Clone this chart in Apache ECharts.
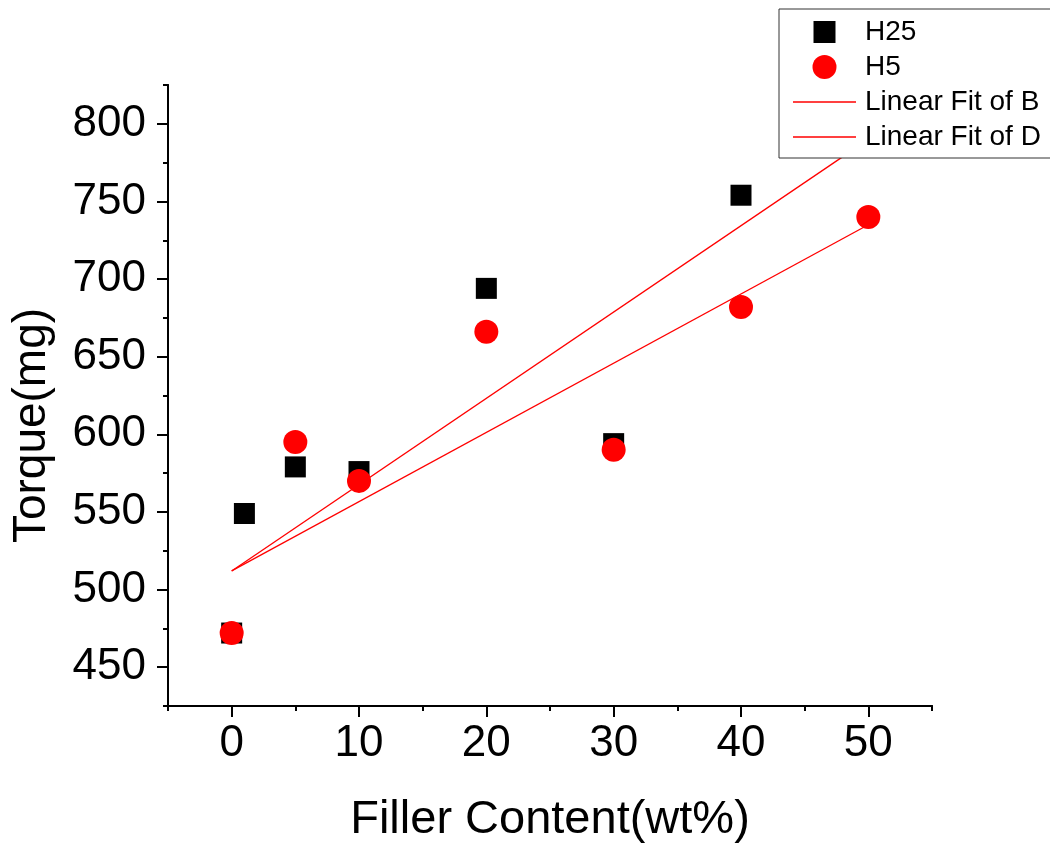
<!DOCTYPE html>
<html>
<head>
<meta charset="utf-8">
<title>Torque vs Filler Content</title>
<script src="https://cdn.jsdelivr.net/npm/echarts@6/dist/echarts.min.js"></script>
<style>
  html, body { margin: 0; padding: 0; background: #fff; }
  #chart { width: 1050px; height: 850px; }
</style>
</head>
<body>
<div id="chart"></div>
<script>
// Measured torque for the two filler grades
var xH25 = [0, 1, 5, 10, 20, 30, 40];
var yH25 = [472, 549, 579, 576, 694, 594, 754];
var xH5 = [0, 5, 10, 20, 30, 40, 50];
var yH5 = [472, 595, 570, 666, 590, 682, 740];

// Linear fit end points
var fitX = [0, 50];
var fitB = [512, 790];
var fitD = [512, 735];

// Axis ticks
var xMajor = [0, 10, 20, 30, 40, 50];
var xMinor = [-5, 5, 15, 25, 35, 45, 55];
var yMajor = [450, 500, 550, 600, 650, 700, 750, 800];
var yMinor = [425, 475, 525, 575, 625, 675, 725, 775, 825];

function pairs(xs, ys) {
  return xs.map(function (x, i) { return [x, ys[i]]; });
}

var FONT = 'Liberation Sans, Arial, Helvetica, sans-serif';
var chart = echarts.init(document.getElementById('chart'), null, { renderer: 'canvas' });

var axisLine = { show: true, onZero: false, lineStyle: { color: '#000', width: 2 } };
var lineIcon = 'path://M0,0L63,0L63,1.3L0,1.3Z';

chart.setOption({
  animation: false,
  backgroundColor: '#fff',
  grid: { left: 168, right: 118, top: 85, bottom: 144, containLabel: false },
  legend: {
    left: 779,
    top: 9,
    orient: 'vertical',
    padding: [9, 12, 7, 14],
    itemWidth: 63,
    itemHeight: 24,
    itemGap: 7,
    backgroundColor: '#fff',
    borderColor: '#333',
    borderWidth: 1,
    borderRadius: 0,
    textStyle: { fontFamily: FONT, fontSize: 28, color: '#000', lineHeight: 27, padding: [0, 0, 0, 4] },
    data: [
      { name: 'H25', icon: 'path://M11,-1 M0,0L22,0L22,22L0,22Z M11,23' },
      { name: 'H5', icon: 'circle' },
      { name: 'Linear Fit of B', icon: lineIcon },
      { name: 'Linear Fit of D', icon: lineIcon }
    ]
  },
  xAxis: [
    {
      type: 'value', position: 'bottom', min: -5, max: 55,
      name: 'Filler Content(wt%)', nameLocation: 'middle', nameGap: 91,
      nameTextStyle: { fontFamily: FONT, fontSize: 47, color: '#000' },
      axisLine: axisLine,
      axisTick: { show: true, inside: false, length: 11, lineStyle: { color: '#000', width: 2 }, customValues: xMajor },
      axisLabel: { show: true, margin: 16, fontFamily: FONT, fontSize: 44, color: '#000', customValues: xMajor },
      splitLine: { show: false }
    },
    {
      type: 'value', position: 'bottom', min: -5, max: 55,
      axisLine: axisLine,
      axisTick: { show: true, inside: false, length: 5, lineStyle: { color: '#000', width: 2 }, customValues: xMinor },
      axisLabel: { show: false },
      splitLine: { show: false }
    }
  ],
  yAxis: [
    {
      type: 'value', position: 'left', min: 425, max: 825,
      name: 'Torque(mg)', nameLocation: 'middle', nameGap: 113,
      nameTextStyle: { fontFamily: FONT, fontSize: 46, color: '#000', padding: [0, 60, 0, 0] },
      axisLine: axisLine,
      axisTick: { show: true, inside: false, length: 11, lineStyle: { color: '#000', width: 2 }, customValues: yMajor },
      axisLabel: { show: true, margin: 22, fontFamily: FONT, fontSize: 44, color: '#000', customValues: yMajor },
      splitLine: { show: false }
    },
    {
      type: 'value', position: 'left', min: 425, max: 825,
      axisLine: axisLine,
      axisTick: { show: true, inside: false, length: 5, lineStyle: { color: '#000', width: 2 }, customValues: yMinor },
      axisLabel: { show: false },
      splitLine: { show: false }
    }
  ],
  series: [
    {
      name: 'Linear Fit of B', type: 'line', z: 2,
      data: pairs(fitX, fitB), showSymbol: false, symbol: 'none',
      lineStyle: { color: '#ff0000', width: 1.3 }, itemStyle: { color: '#ff0000' }
    },
    {
      name: 'Linear Fit of D', type: 'line', z: 2,
      data: pairs(fitX, fitD), showSymbol: false, symbol: 'none',
      lineStyle: { color: '#ff0000', width: 1.3 }, itemStyle: { color: '#ff0000' }
    },
    {
      name: 'H25', type: 'scatter', z: 3,
      data: pairs(xH25, yH25), symbol: 'rect', symbolSize: 21,
      itemStyle: { color: '#000', opacity: 1 }
    },
    {
      name: 'H5', type: 'scatter', z: 4,
      data: pairs(xH5, yH5), symbol: 'circle', symbolSize: 24,
      itemStyle: { color: '#ff0000', opacity: 1 }
    }
  ]
});
</script>
</body>
</html>
